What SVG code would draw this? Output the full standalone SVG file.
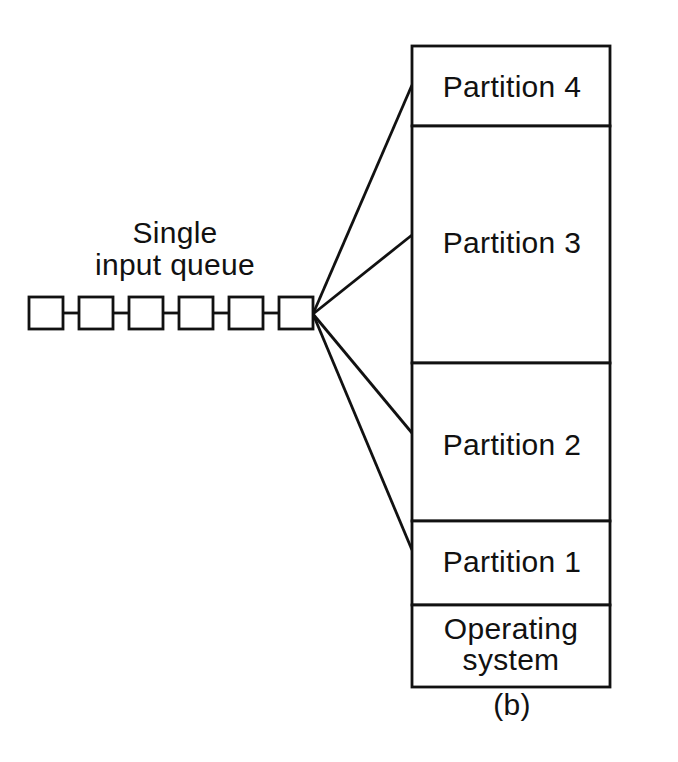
<svg xmlns="http://www.w3.org/2000/svg" width="678" height="762" viewBox="0 0 678 762">
<style>
.s{fill:none;stroke:#111;stroke-width:2.8}
.b{fill:#fff;stroke:#111;stroke-width:2.8}
text{font-family:"Liberation Sans",Arial,sans-serif;font-size:30px;letter-spacing:0.3px;fill:#111;text-anchor:middle}
</style>
<rect width="678" height="762" fill="#fff"/>
<g id="connectors" class="s">
<line x1="63" y1="313" x2="79" y2="313"/>
<line x1="113" y1="313" x2="129" y2="313"/>
<line x1="163" y1="313" x2="179" y2="313"/>
<line x1="213" y1="313" x2="229" y2="313"/>
<line x1="263" y1="313" x2="279" y2="313"/>
<line x1="313" y1="314" x2="412" y2="85"/>
<line x1="313" y1="314" x2="412" y2="235"/>
<line x1="313" y1="314" x2="412" y2="433"/>
<line x1="313" y1="314" x2="412" y2="550"/>
</g>
<g id="queue">
<text x="175" y="243">Single</text>
<text x="175" y="275">input queue</text>
<rect class="b" x="29" y="297" width="34" height="32"/>
<rect class="b" x="79" y="297" width="34" height="32"/>
<rect class="b" x="129" y="297" width="34" height="32"/>
<rect class="b" x="179" y="297" width="34" height="32"/>
<rect class="b" x="229" y="297" width="34" height="32"/>
<rect class="b" x="279" y="297" width="34" height="32"/>
</g>
<g id="partition4">
<rect class="b" x="412" y="46" width="198" height="80"/>
<text x="512" y="97">Partition 4</text>
</g>
<g id="partition3">
<rect class="b" x="412" y="126" width="198" height="237"/>
<text x="512" y="253">Partition 3</text>
</g>
<g id="partition2">
<rect class="b" x="412" y="363" width="198" height="158"/>
<text x="512" y="455">Partition 2</text>
</g>
<g id="partition1">
<rect class="b" x="412" y="521" width="198" height="84"/>
<text x="512" y="572">Partition 1</text>
</g>
<g id="os">
<rect class="b" x="412" y="605" width="198" height="82"/>
<text x="511" y="639">Operating</text>
<text x="511" y="670">system</text>
</g>
<g id="caption">
<text x="512" y="715">(b)</text>
</g>
</svg>
